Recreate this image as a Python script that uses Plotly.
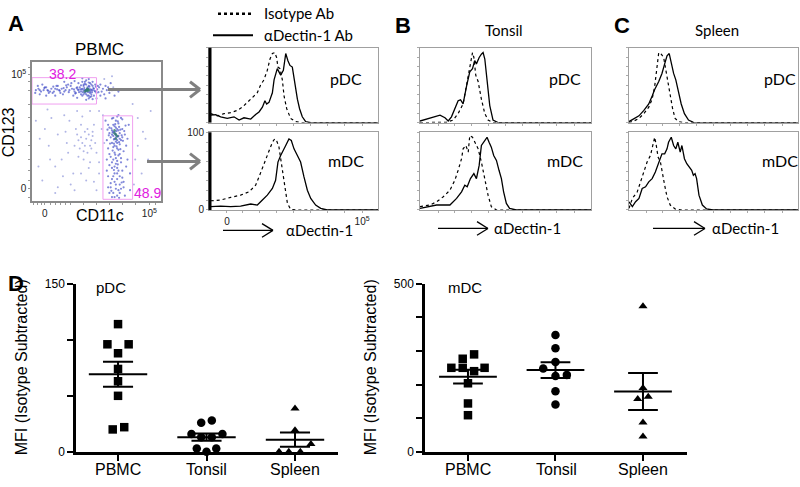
import numpy as np
import plotly.graph_objects as go

W, H = 800, 487
def px(x): return x / W
def py(y): return 1 - y / H

# ---------------- DATA ----------------
# Panel A flow dot plot (CD11c, CD123) in display % units
pdc_dots = [(40,80),(42,79),(44,81),(46,80),(43,82),(41,78),(45,79),(39,81),(47,80),(42,77),
            (44,83),(38,79),(46,77),(40,83),(43,80),(48,81),(37,82),(45,78),(41,80),(44,76),
            (36,80),(49,79),(35,82),(42,84),(47,83),(39,76),(43,81),(50,78),(33,79),(45,85),
            (31,81),(41,86),(46,84),(29,80),(38,77),(27,82),(44,74),(25,79),(40,84),(23,81),
            (21,80),(19,83),(17,79),(15,81),(13,78),(11,82),(9,80),(7,79),(5,81),(3,80),
            (52,82),(54,79),(56,77),(58,80),(34,78),(30,83),(26,80),(22,78),(18,81),(14,79),
            (10,82),(6,80),(48,76),(36,85),(32,76),(28,84),(24,77),(20,83),(16,78),(12,80),
            (8,84),(45,75),(42,87),(39,86),(50,74),(53,84),(60,78),(57,74),(62,80),(47,86),
            (38.5,80.5),(40.5,81.5),(41.5,79.5),(43.5,78.5),(44.5,82.5),(45.5,80.5),(46.5,78.5),
            (47.5,81.5),(39.5,78.5),(42.5,80.5),(37.5,80.5),(36.5,78.5),(35.5,80.5),(34.5,81.5),
            (33.5,77.5),(32.5,80.5),(48.5,79.5),(49.5,82.5),(50.5,80.5),(51.5,78.5),(40,77),
            (43,76),(46,75.5),(41,84.5),(44,85.5),(38,83.5),(49,84),(51,83),(55,81),(57,83),
            (28.5,78.5),(26.5,83.5),(24.5,81.5),(21.5,79.5),(19.5,80.5),(16.5,82.5),(12.5,79.5),
            (9.5,81.5),(4.5,83),(2.5,78),(30.5,85),(35,74.5),(42,73),(47,73.5),(53,76),(59,82),
            (64,76),(67,79),(61,85),(44,88),(39,88.5),(33,86.5),(25,86),(18,76),(11,76),(6,77)]
mdc_dots = [(65,48),(63,50),(67,47),(64,45),(66,52),(62,51),(68,49),(65,43),(63,55),(67,56),
            (61,46),(69,44),(64,40),(66,38),(62,42),(68,41),(65,58),(60,53),(70,52),(64,35),
            (67,33),(63,30),(65,27),(69,28),(61,32),(66,24),(64,20),(68,18),(62,16),(65,12),
            (67,8),(63,6),(70,22),(59,38),(71,36),(60,26),(58,44),(59,55),(72,48),(66,61),
            (69,60),(63,60),(64,14),(66,4),(61,10),(68,12),(59,18),(71,14),(73,40),(58,30),
            (65,46),(64,50),(66,44),(63,47),(67,51),(65,53),(62,48),(68,45),(66,42),(64,54),
            (70,46),(60,49),(67,37),(63,39),(65,31),(68,34),(62,24),(66,20),(69,9),(64,3),
            (74,30),(76,20),(72,4),(60,6),
            (64.5,48.5),(65.5,50.5),(66.5,46.5),(63.5,44.5),(67.5,53.5),(62.5,49.5),(68.5,51.5),
            (64.5,55.5),(66.5,57.5),(61.5,52.5),(69.5,47.5),(63.5,41.5),(67.5,42.5),(65.5,39.5),
            (62.5,36.5),(68.5,37.5),(60.5,41.5),(70.5,43.5),(59.5,47.5),(71.5,50.5),(72.5,54.5),
            (58.5,51.5),(66,29),(62,28),(69,31),(64,25),(67,22),(63,18),(66,16),(70,17),(61,13),
            (65,9),(68,6),(62,3),(71,10),(73,25),(58,22),(60,34),(74,45),(75,55),(57,58),(70,59),
            (62,59.5),(67,62),(64.5,33.5),(66.5,26.5),(63.5,22.5),(69.5,13.5),(61.5,7.5),
            (67.5,2.5),(76,8),(59,10)]
other_dots = [(42,45),(39,42),(45,40),(41,50),(37,38),(43,35),(35,48),(47,47),(40,30),(33,40),
              (45,28),(28,35),(23,30),(18,25),(32,20),(13,40),(50,35),(48,55),(38,55),(26,50),
              (8,15),(20,10),(6,45),(42,15),(52,20),(55,62),(80,30),(82,60),(85,20),(78,70),
              (60,80),(63,82),(44,48),(40,36),(46,44),(36,44),(30,12),(15,60),(50,8),(88,45),
              (47,50),(43,52),(38,46),(34,52),(46,38),(41,40),(49,42),(36,32),(44,24),(38,20),
              (27,42),(20,48),(14,30),(10,52),(5,25),(24,18),(33,8),(48,14),(56,42),(54,52),
              (52,65),(45,65),(35,65),(25,62),(82,40),(86,50),(79,12),(84,8),(90,30),(92,65),
              (56,88),(62,90),(12,66),(3,58),(18,6),(52,28),(29,58),(39,61)]
core_dots = [(42,80),(43,81),(41,79),(44,80),(43,79.5),(65,48),(66,47),(64,49),(65,45),(64,51)]
gate_pdc = dict(x0=0, x1=50, y0=70, y1=89, pct="38.2")
gate_mdc = dict(x0=55, x1=78, y0=1.4, y1=61.5, pct="48.9")

# Histograms: x = % of display range, y = % of max
hist = {
 "A_pDC": {
  "iso_x": [1.0,4.9,8.9,12.8,16.8,19.7,22.7,25.6,28.6,30.6,32.5,34.5,36.1,37.5,38.9,40.0,40.8,42.0,43.4,44.4,46.0,48.3,51.3,54.2,100],
  "iso_y": [12.0,9.0,12.0,13.3,16.3,20.6,27.0,33.5,39.9,50.6,57.1,70.0,85.0,92.3,93.6,87.1,74.2,72.1,57.1,35.6,18.5,5.6,1.3,0,0],
  "dec_x": [1.0,3.9,6.9,10.8,14.8,17.8,20.7,24.7,27.6,29.6,31.6,33.1,34.1,35.5,37.5,38.5,40.4,42.4,44.0,45.4,46.7,47.9,49.3,50.7,52.3,53.6,55.2,57.2,60.2,100],
  "dec_y": [9.9,10.7,7.7,5.6,7.7,3.4,6.4,4.7,10.7,14.2,20.6,29.2,24.9,27.0,39.9,57.1,72.1,63.5,70.0,92.3,82.8,76.4,74.2,52.8,31.3,18.5,7.7,1.3,0,0]},
 "A_mDC": {
  "iso_x": [1.0,6.9,12.8,18.7,23.7,27.6,29.6,32.5,35.5,37.5,38.9,40.0,41.4,42.8,44.4,46.4,48.3,51.3,100],
  "iso_y": [11.9,12.8,16.2,19.1,23.4,31.9,42.6,59.6,76.6,87.2,91.5,89.4,80.9,59.6,34.0,8.5,0.9,0,0],
  "dec_x": [1.0,6.9,12.8,18.7,24.7,28.6,31.6,34.5,37.5,39.4,40.8,42.4,45.4,47.3,48.7,50.3,52.3,54.2,56.2,58.2,60.2,63.1,66.1,70.0,100],
  "dec_y": [4.3,5.1,4.3,5.1,7.7,6.4,12.8,19.1,27.7,38.3,61.7,70.2,83.0,91.5,89.4,78.7,70.2,61.7,42.6,25.5,14.9,6.4,2.1,0,0]},
 "B_pDC": {
  "iso_x": [0,9.7,15.5,19.4,22.3,25.2,27.2,28.7,29.5,30.7,31.5,32.6,34.0,35.9,37.9,39.8,42.7,100],
  "iso_y": [0,0,0.4,3.4,12.0,24.9,48.5,70.0,74.2,93.6,87.1,63.5,54.9,31.3,12.0,3.4,0,0],
  "dec_x": [0,3.9,7.8,11.7,14.6,16.5,18.4,20.4,22.3,23.7,25.2,27.2,29.1,30.7,32.0,33.0,34.6,35.9,36.9,37.9,39.2,40.8,42.7,45.6,100],
  "dec_y": [2.1,4.7,7.7,9.9,6.4,2.1,7.7,18.5,29.2,30.5,24.9,48.5,67.8,72.1,82.8,78.5,87.1,91.4,93.6,85.0,57.1,22.7,3.4,0,0]},
 "B_mDC": {
  "iso_x": [0,5.8,9.7,13.6,17.5,20.4,22.3,24.3,25.2,26.8,28.2,29.1,30.7,32.0,34.0,35.9,37.9,39.8,41.7,44.7,100],
  "iso_y": [4.3,6.4,10.6,17.0,25.5,38.3,51.1,66.0,78.7,83.0,74.5,95.7,93.6,87.2,78.7,61.7,40.4,19.1,4.3,0,0],
  "dec_x": [0,5.8,9.7,13.6,17.5,21.4,24.3,26.2,27.6,29.5,31.5,33.0,34.6,35.9,37.9,39.2,40.4,41.7,43.1,44.7,46.2,47.6,48.9,50.5,52.4,56.3,100],
  "dec_y": [2.1,4.3,6.4,6.4,6.4,14.9,23.4,31.9,29.8,40.4,46.8,40.4,57.4,83.0,89.4,93.6,87.2,80.9,70.2,63.8,51.1,40.4,23.4,8.5,2.1,0,0]},
 "C_pDC": {
  "iso_x": [0,2.9,5.9,8.8,11.7,13.7,15.2,16.6,17.6,19.1,20.5,21.5,23.0,24.4,25.8,27.3,29.3,32.2,100],
  "iso_y": [0,2.1,5.6,12.0,20.6,31.3,48.5,74.2,93.6,91.4,87.1,74.2,52.8,35.6,18.5,5.6,1.3,0,0],
  "dec_x": [0,2.9,5.9,8.8,11.7,13.7,15.2,17.6,19.5,21.1,22.5,23.8,25.0,26.4,27.7,29.3,30.9,32.8,35.2,38.1,43.0,100],
  "dec_y": [1.3,5.6,9.0,16.3,24.9,35.6,44.2,54.9,65.7,78.5,89.3,92.3,78.5,65.7,57.1,39.9,24.9,12.0,3.4,0.4,0,0]},
 "C_mDC": {
  "iso_x": [0,2.0,4.9,6.8,8.8,10.7,12.7,14.1,15.2,16.0,17.2,18.6,19.5,21.1,22.5,24.4,27.3,31.3,100],
  "iso_y": [2.1,14.9,23.4,36.2,48.9,61.7,70.2,83.0,93.6,85.1,68.1,61.7,48.9,31.9,17.0,6.4,1.3,0,0],
  "dec_x": [0,2.0,3.9,5.9,7.8,9.8,11.7,13.7,15.6,17.6,19.5,21.1,22.5,23.4,25.0,26.4,27.7,28.9,30.3,31.3,32.8,34.2,35.5,37.1,38.1,39.1,40.0,41.4,43.4,45.9,49.8,100],
  "dec_y": [10.6,4.3,10.6,14.9,27.7,29.8,36.2,40.4,48.9,61.7,72.3,72.3,78.7,87.2,93.6,83.0,78.7,87.2,74.5,83.0,66.0,59.6,55.3,51.1,44.7,46.8,40.4,19.1,6.4,1.3,0,0]},
}

# Panel D: MFI (isotype subtracted)
cats = ["PBMC", "Tonsil", "Spleen"]
pdc_vals = {"PBMC": [114, 96, 96, 88, 74, 63, 50, 20, 22],
            "Tonsil": [28, 26, 16, 13, 13, 16, 3, 0, 3],
            "Spleen": [38.7, 19.3, 7, 0, 0, 0]}
pdc_dx = {"PBMC": [0, -0.12, 0.12, 0, 0, 0, 0, -0.06, 0.07],
          "Tonsil": [0.06, -0.06, -0.17, -0.06, 0.06, 0.18, -0.11, 0, 0.11],
          "Spleen": [0, 0, 0.18, -0.18, -0.07, 0.06]}
mdc_vals = {"PBMC": [290, 277, 250, 250, 250, 240, 204, 144, 109],
            "Tonsil": [348, 308, 267, 248, 226, 229, 180, 141],
            "Spleen": [433, 190, 157, 164, 87, 46]}
mdc_dx = {"PBMC": [0.07, -0.06, -0.19, -0.06, 0.19, 0.07, 0, 0, 0],
          "Tonsil": [0, 0, 0, -0.14, 0, 0.13, 0, 0],
          "Spleen": [0, 0, -0.06, 0.06, 0, 0]}
symbols = {"PBMC": "square", "Tonsil": "circle", "Spleen": "triangle-up"}

# ---------------- FIGURE ----------------
fig = go.Figure()
layout = dict(width=W, height=H, autosize=False, margin=dict(l=0, r=0, t=0, b=0, pad=0),
              paper_bgcolor="white", plot_bgcolor="white", showlegend=False)
ARIAL = "Liberation Sans"
CAL = "Lato"

# Axis 1: flow plot
fx0, fx1, fy0, fy1 = 32, 161, 57, 200
minor = [1, 4, 7, 10, 14, 18, 22, 26, 30, 40, 50, 60, 70, 80, 91, 96]
layout["xaxis"] = dict(domain=[px(fx0), px(fx1)], anchor="y", range=[0, 100], showgrid=False, zeroline=False,
                       showline=True, mirror=True, linecolor="#8a8a8a", linewidth=1.5, ticks="outside",
                       ticklen=2, tickcolor="#999", tickvals=minor, tickangle=0,
                       ticktext=["0" if v == 10 else ("10<sup>5</sup>" if v == 91 else " ") for v in minor],
                       tickfont=dict(size=10, family=ARIAL, color="#222"))
yminor = [3, 9, 15, 22, 30, 40, 50, 60, 70, 80, 86, 91, 96]
layout["yaxis"] = dict(domain=[py(fy1), py(fy0)], anchor="x", range=[0, 100], showgrid=False, zeroline=False,
                       showline=True, mirror=True, linecolor="#8a8a8a", linewidth=1.5, ticks="outside",
                       ticklen=2, tickcolor="#999", tickvals=yminor,
                       ticktext=["0" if v == 9 else ("10<sup>5</sup>" if v == 91 else " ") for v in yminor],
                       tickfont=dict(size=10, family=ARIAL, color="#222"))

def add_dots(pairs, color, size, opacity):
    fig.add_trace(go.Scatter(x=[p[0] for p in pairs], y=[p[1] for p in pairs], mode="markers",
                             marker=dict(size=size, color=color, opacity=opacity, line=dict(width=0)),
                             xaxis="x", yaxis="y", hoverinfo="skip"))
add_dots(other_dots, "#7078d0", 2.0, 0.55)
add_dots(pdc_dots, "#3d48c6", 2.2, 0.65)
add_dots(mdc_dots, "#3d48c6", 2.2, 0.65)
add_dots(core_dots, "#2f7d6a", 2.6, 0.8)

shapes = []
annotations = []
for g in (gate_pdc, gate_mdc):
    shapes.append(dict(type="rect", xref="x", yref="y", x0=g["x0"], x1=g["x1"], y0=g["y0"], y1=g["y1"],
                       line=dict(color="#f0a0f0", width=1)))

def txt(x, y, s, size, family=ARIAL, color="black", xanchor="center", angle=0, bold=False):
    if bold:
        s = "<b>" + s + "</b>"
    annotations.append(dict(x=px(x), y=py(y), xref="paper", yref="paper", text=s, showarrow=False,
                            xanchor=xanchor, yanchor="middle", textangle=angle,
                            font=dict(size=size, family=family, color=color)))

def line(x0, y0, x1, y1, color="black", width=1, dash=None):
    d = dict(type="line", xref="paper", yref="paper", x0=px(x0), y0=py(y0), x1=px(x1), y1=py(y1),
             line=dict(color=color, width=width))
    if dash:
        d["line"]["dash"] = dash
    shapes.append(d)

def arrow(x0, x1, y, color, width, hl, hw):
    line(x0, y, x1, y, color, width)
    line(x1 - hl, y - hw, x1, y, color, width)
    line(x1 - hl, y + hw, x1, y, color, width)

txt(62, 69, gate_pdc["pct"], 14, color="#e020e0")
txt(147, 192, gate_mdc["pct"], 14, color="#e020e0")
txt(99, 44, "PBMC", 17)
txt(8, 129, "CD123", 16, angle=-90)
txt(100, 215, "CD11c", 16)
arrow(108, 200, 85, "#808080", 3, 10, 8)
arrow(147, 200, 159, "#808080", 3, 10, 8)

# Histogram axes
hbox = {"A": (209, 378), "B": (420, 591), "C": (629, 798)}
hrows = {"pDC": (42, 119), "mDC": (129, 209)}
idx = 2
for col in ("A", "B", "C"):
    for row in ("pDC", "mDC"):
        key = col + "_" + row
        xa, ya = "xaxis%d" % idx, "yaxis%d" % idx
        xr, yr = "x%d" % idx, "y%d" % idx
        x0, x1 = hbox[col]
        y0, y1 = hrows[row]
        show_lab = (col == "A" and row == "mDC")
        layout[xa] = dict(domain=[px(x0), px(x1)], anchor=yr, range=[0, 100], showgrid=False, zeroline=False,
                          showline=True, mirror=True, linecolor="#a0a0a0", linewidth=1, ticks="outside",
                          ticklen=2, tickcolor="#aaa", tickvals=[10.6, 20, 30, 40, 50, 60, 70, 80, 90.6],
                          tickangle=0,
                          ticktext=(["0", " ", " ", " ", " ", " ", " ", " ", "10<sup>5</sup>"] if show_lab else [" "] * 9),
                          tickfont=dict(size=10, family=ARIAL, color="#222"))
        layout[ya] = dict(domain=[py(y1), py(y0)], anchor=xr, range=[0, 100], showgrid=False, zeroline=False,
                          showline=True, mirror=True, linecolor="#a0a0a0", linewidth=1, ticks="outside",
                          ticklen=2, tickcolor="#aaa", tickvals=[0, 12.5, 25, 37.5, 50, 62.5, 75, 87.5, 100],
                          ticktext=(["0", " ", " ", " ", " ", " ", " ", " ", "100"] if show_lab else [" "] * 9),
                          tickfont=dict(size=10, family=ARIAL, color="#222"))
        h = hist[key]
        fig.add_trace(go.Scatter(x=h["iso_x"], y=h["iso_y"], mode="lines", xaxis=xr, yaxis=yr,
                                 line=dict(color="black", width=1.2, dash="dot"), hoverinfo="skip"))
        fig.add_trace(go.Scatter(x=h["dec_x"], y=h["dec_y"], mode="lines", xaxis=xr, yaxis=yr,
                                 line=dict(color="black", width=1.3), hoverinfo="skip"))
        lx = {"A": 346, "B": 565, "C": 780}[col]
        ly = {"pDC": 74, "mDC": 158}[row]
        txt(lx, ly, row, 16, family=CAL)
        if col == "A":
            line(x0 + 1, y0, x0 + 1, y1, "black", 3)
        idx += 1

# Histogram legends & labels
line(218, 7, 253, 7, "black", 2.5, "dot")
line(213, 29, 253, 29, "black", 2)
txt(262, 6, "Isotype Ab", 15, family=CAL, xanchor="left")
txt(262, 29, "αDectin-1 Ab", 15, family=CAL, xanchor="left")
txt(504, 24, "Tonsil", 15, family=CAL)
txt(717, 24, "Spleen", 15, family=CAL)
arrow(223, 273, 230, "black", 1.3, 11, 7)
arrow(438, 488, 228, "black", 1.3, 11, 7)
arrow(653, 705, 228, "black", 1.3, 11, 7)
txt(319, 230, "αDectin-1", 15, family=CAL)
txt(527, 228, "αDectin-1", 15, family=CAL)
txt(745, 228, "αDectin-1", 15, family=CAL)

# Panel letters
txt(16, 17, "A", 22, bold=True)
txt(403, 19, "B", 22, bold=True)
txt(622, 19, "C", 22, bold=True)
txt(16, 285, "D", 22, bold=True)

# Panel D axes
panels = [
    dict(n=8, box=(76, 338, 285, 458), ymax=150, vals=pdc_vals, dxs=pdc_dx, lab="pDC", labx=111,
         ytx=21, xrange=[0.525, 3.486], cat_px=[118, 207, 295],
         yticks=[0, 50, 100, 150], ytext=["0", " ", " ", "150"]),
    dict(n=9, box=(425, 687, 285, 458), ymax=500, vals=mdc_vals, dxs=mdc_dx, lab="mDC", labx=465,
         ytx=370, xrange=[0.509, 3.503], cat_px=[468, 556, 643],
         yticks=[0, 100, 200, 300, 400, 500], ytext=["0", " ", " ", " ", " ", "500"]),
]
for p in panels:
    n = p["n"]
    xa, ya, xr, yr = "xaxis%d" % n, "yaxis%d" % n, "x%d" % n, "y%d" % n
    xl, xrgt, yt, yb = p["box"]
    layout[xa] = dict(domain=[px(xl), px(xrgt)], anchor=yr, range=p["xrange"], showgrid=False, zeroline=False,
                      showline=True, linecolor="black", linewidth=2.5, ticks="outside", ticklen=6,
                      tickwidth=2, tickcolor="black", tickvals=[1, 2, 3], showticklabels=False)
    layout[ya] = dict(domain=[py(yb), py(yt)], anchor=xr, range=[0, p["ymax"]], showgrid=False, zeroline=False,
                      showline=True, linecolor="black", linewidth=2.5, ticks="outside", ticklen=6,
                      tickwidth=2, tickcolor="black", tickvals=p["yticks"], ticktext=p["ytext"],
                      tickfont=dict(size=12, family=ARIAL, color="black"))
    for i, c in enumerate(cats):
        v = np.array(p["vals"][c], dtype=float)
        xs = [i + 1 + d for d in p["dxs"][c]]
        m = v.mean()
        sem = v.std(ddof=1) / np.sqrt(len(v))
        cx = i + 1
        fig.add_trace(go.Scatter(x=[cx - 0.33, cx + 0.33], y=[m, m], mode="lines", xaxis=xr, yaxis=yr,
                                 line=dict(color="black", width=2), hoverinfo="skip"))
        fig.add_trace(go.Scatter(x=[cx - 0.17, cx + 0.17, None, cx - 0.17, cx + 0.17, None, cx, cx],
                                 y=[m + sem, m + sem, None, m - sem, m - sem, None, m - sem, m + sem],
                                 mode="lines", xaxis=xr, yaxis=yr, line=dict(color="black", width=2),
                                 hoverinfo="skip"))
        fig.add_trace(go.Scatter(x=xs, y=v, mode="markers", xaxis=xr, yaxis=yr, cliponaxis=False,
                                 marker=dict(symbol=symbols[c], size=8.5 if c != "Spleen" else 8,
                                             color="black", line=dict(width=0)), hoverinfo="skip"))
        txt(p["cat_px"][i], 476, c, 16)
    txt(p["labx"], 289, p["lab"], 15)
    txt(p["ytx"], 371, "MFI (Isotype Subtracted)", 16, angle=-90)

layout["shapes"] = shapes
layout["annotations"] = annotations
fig.update_layout(**layout)
fig.write_html("out.html", config={"displayModeBar": False},
               post_script="document.body.style.margin='0';document.body.style.padding='0';"
                           "document.body.style.overflow='hidden';")
